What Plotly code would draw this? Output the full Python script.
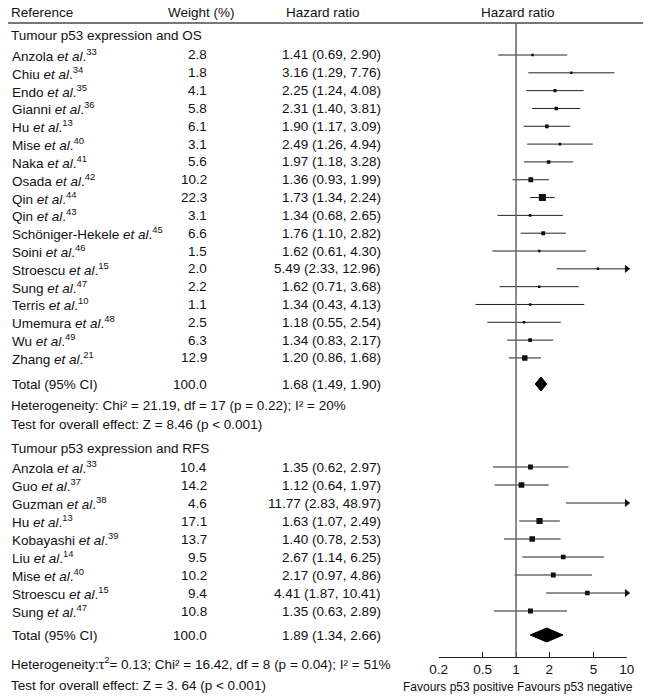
import math
import plotly.graph_objects as go

# ---------------- data ----------------
os_names = ["Anzola", "Chiu", "Endo", "Gianni", "Hu", "Mise", "Naka", "Osada", "Qin", "Qin",
            "Schöniger-Hekele", "Soini", "Stroescu", "Sung", "Terris", "Umemura", "Wu", "Zhang"]
os_refs = [33, 34, 35, 36, 13, 40, 41, 42, 44, 43, 45, 46, 15, 47, 10, 48, 49, 21]
os_weight = [2.8, 1.8, 4.1, 5.8, 6.1, 3.1, 5.6, 10.2, 22.3, 3.1, 6.6, 1.5, 2.0, 2.2, 1.1, 2.5, 6.3, 12.9]
os_hr = [1.41, 3.16, 2.25, 2.31, 1.90, 2.49, 1.97, 1.36, 1.73, 1.34, 1.76, 1.62, 5.49, 1.62, 1.34, 1.18, 1.34, 1.20]
os_lo = [0.69, 1.29, 1.24, 1.40, 1.17, 1.26, 1.18, 0.93, 1.34, 0.68, 1.10, 0.61, 2.33, 0.71, 0.43, 0.55, 0.83, 0.86]
os_hi = [2.90, 7.76, 4.08, 3.81, 3.09, 4.94, 3.28, 1.99, 2.24, 2.65, 2.82, 4.30, 12.96, 3.68, 4.13, 2.54, 2.17, 1.68]
os_total = [100.0, 1.68, 1.49, 1.90]

rfs_names = ["Anzola", "Guo", "Guzman", "Hu", "Kobayashi", "Liu", "Mise", "Stroescu", "Sung"]
rfs_refs = [33, 37, 38, 13, 39, 14, 40, 15, 47]
rfs_weight = [10.4, 14.2, 4.6, 17.1, 13.7, 9.5, 10.2, 9.4, 10.8]
rfs_hr = [1.35, 1.12, 11.77, 1.63, 1.40, 2.67, 2.17, 4.41, 1.35]
rfs_lo = [0.62, 0.64, 2.83, 1.07, 0.78, 1.14, 0.97, 1.87, 0.63]
rfs_hi = [2.97, 1.97, 48.97, 2.49, 2.53, 6.25, 4.86, 10.41, 2.89]
rfs_total = [100.0, 1.89, 1.34, 2.66]

tick_vals = [0.2, 0.5, 1, 2, 5, 10]
tick_text = ["0.2", "0.5", "1", "2", "5", "10"]

os_het = "Heterogeneity: Chi² = 21.19, df = 17 (p = 0.22); I² = 20%"
os_test = "Test for overall effect: Z = 8.46 (p < 0.001)"
rfs_het = "Heterogeneity:τ<sup>2</sup>= 0.13; Chi² = 16.42, df = 8 (p = 0.04); I² = 51%"
rfs_test = "Test for overall effect: Z = 3. 64 (p < 0.001)"

# ---------------- layout constants (pixels) ----------------
W, H = 650, 698
X_MIN, X_MAX = 0.2, 10
PLOT_L, PLOT_R = 438.7, 626.7
Y_TOP, Y_AXIS = 23, 657
FONT = "Liberation Sans, Arial, sans-serif"
FS = 13.5

os_hdr_y = 35
os_y = [55 + i * 17.82 for i in range(len(os_names))]
os_tot_y = 384
os_het_y, os_test_y = 405, 424
rfs_hdr_y = 448
rfs_y = [467 + i * 18.0 for i in range(len(rfs_names))]
rfs_tot_y = 635
rfs_het_y, rfs_test_y = 663, 685

X_NAME, X_WEIGHT, X_HR = 11, 208, 382

fig = go.Figure()
annotations = []


def py(y):
    return (H - y) / H


def txt(x, y, text, anchor="left", size=FS):
    annotations.append(dict(x=x / W, y=py(y), xref="paper", yref="paper", text=text,
                            showarrow=False, xanchor=anchor, yanchor="middle",
                            borderpad=0, font=dict(family=FONT, size=size, color="#111")))


def fmt_hr(h, l, u):
    return f"{h:.2f} ({l:.2f}, {u:.2f})"


def add_group(names, refs, weights, hrs, los, his, ys):
    for n, r, w, h, l, u, y in zip(names, refs, weights, hrs, los, his, ys):
        txt(X_NAME, y, f"{n} <i>et al</i>.<sup>{r}</sup>")
        txt(X_WEIGHT, y, f"{w:.1f}", "right")
        txt(X_HR, y, fmt_hr(h, l, u), "right")
        upper = min(u, X_MAX)
        fig.add_trace(go.Scatter(x=[l, upper], y=[y, y], mode="lines",
                                 line=dict(color="#222", width=1), showlegend=False,
                                 hoverinfo="skip", cliponaxis=False))
        if u > X_MAX:
            fig.add_trace(go.Scatter(x=[X_MAX], y=[y], mode="markers",
                                     marker=dict(symbol="triangle-right", size=7, color="#111"),
                                     showlegend=False, cliponaxis=False))
        if X_MIN <= h <= X_MAX:
            fig.add_trace(go.Scatter(x=[h], y=[y], mode="markers",
                                     marker=dict(symbol="square", color="#111",
                                                 size=max(2.5, 1.5 * math.sqrt(w)), line=dict(width=0)),
                                     showlegend=False))


def add_total(total, y, half_h):
    w, h, l, u = total
    txt(X_NAME, y, "Total (95% CI)")
    txt(X_WEIGHT, y, f"{w:.1f}", "right")
    txt(X_HR, y, fmt_hr(h, l, u), "right")
    fig.add_trace(go.Scatter(x=[l, h, u, h, l], y=[y, y - half_h, y, y + half_h, y],
                             mode="lines", fill="toself", fillcolor="#000",
                             line=dict(color="#000", width=1), showlegend=False))


# headers
txt(10, 13, "Reference")
txt(201, 13, "Weight (%)", "center")
txt(323, 13, "Hazard ratio", "center")
txt(518, 13, "Hazard ratio", "center")

txt(10, os_hdr_y, "Tumour p53 expression and OS")
add_group(os_names, os_refs, os_weight, os_hr, os_lo, os_hi, os_y)
add_total(os_total, os_tot_y, 7)
txt(10, os_het_y, os_het)
txt(10, os_test_y, os_test)

txt(10, rfs_hdr_y, "Tumour p53 expression and RFS")
add_group(rfs_names, rfs_refs, rfs_weight, rfs_hr, rfs_lo, rfs_hi, rfs_y)
add_total(rfs_total, rfs_tot_y, 7)
txt(10, rfs_het_y, rfs_het)
txt(10, rfs_test_y, rfs_test)

txt(518, 687, "Favours p53 positive Favours p53 negative", "center", 12)

shapes = [
    dict(type="line", xref="paper", yref="paper", x0=8 / W, x1=643 / W, y0=py(Y_TOP), y1=py(Y_TOP),
         line=dict(color="#777", width=2)),
    dict(type="line", xref="x", yref="y", x0=1, x1=1, y0=Y_TOP, y1=Y_AXIS,
         line=dict(color="#666", width=1.5)),
]

fig.update_layout(
    width=W, height=H, margin=dict(l=0, r=0, t=0, b=0, autoexpand=False),
    paper_bgcolor="white", plot_bgcolor="white", hovermode=False,
    annotations=annotations, shapes=shapes,
    font=dict(family=FONT, size=FS, color="#111"),
    xaxis=dict(type="log", range=[math.log10(X_MIN), math.log10(X_MAX)], automargin=False,
               domain=[PLOT_L / W, PLOT_R / W], tickvals=tick_vals, ticktext=tick_text,
               ticks="inside", ticklen=5, tickcolor="#222", showline=True, linecolor="#222",
               linewidth=1, showgrid=False, zeroline=False, tickfont=dict(size=FS, family=FONT)),
    yaxis=dict(range=[Y_AXIS, Y_TOP], domain=[py(Y_AXIS), py(Y_TOP)], automargin=False,
               visible=False, showgrid=False, zeroline=False),
)

fig.write_html("out.html", config={"displayModeBar": False, "staticPlot": True},
               post_script="document.body.style.margin='0';document.body.style.overflow='hidden';")
